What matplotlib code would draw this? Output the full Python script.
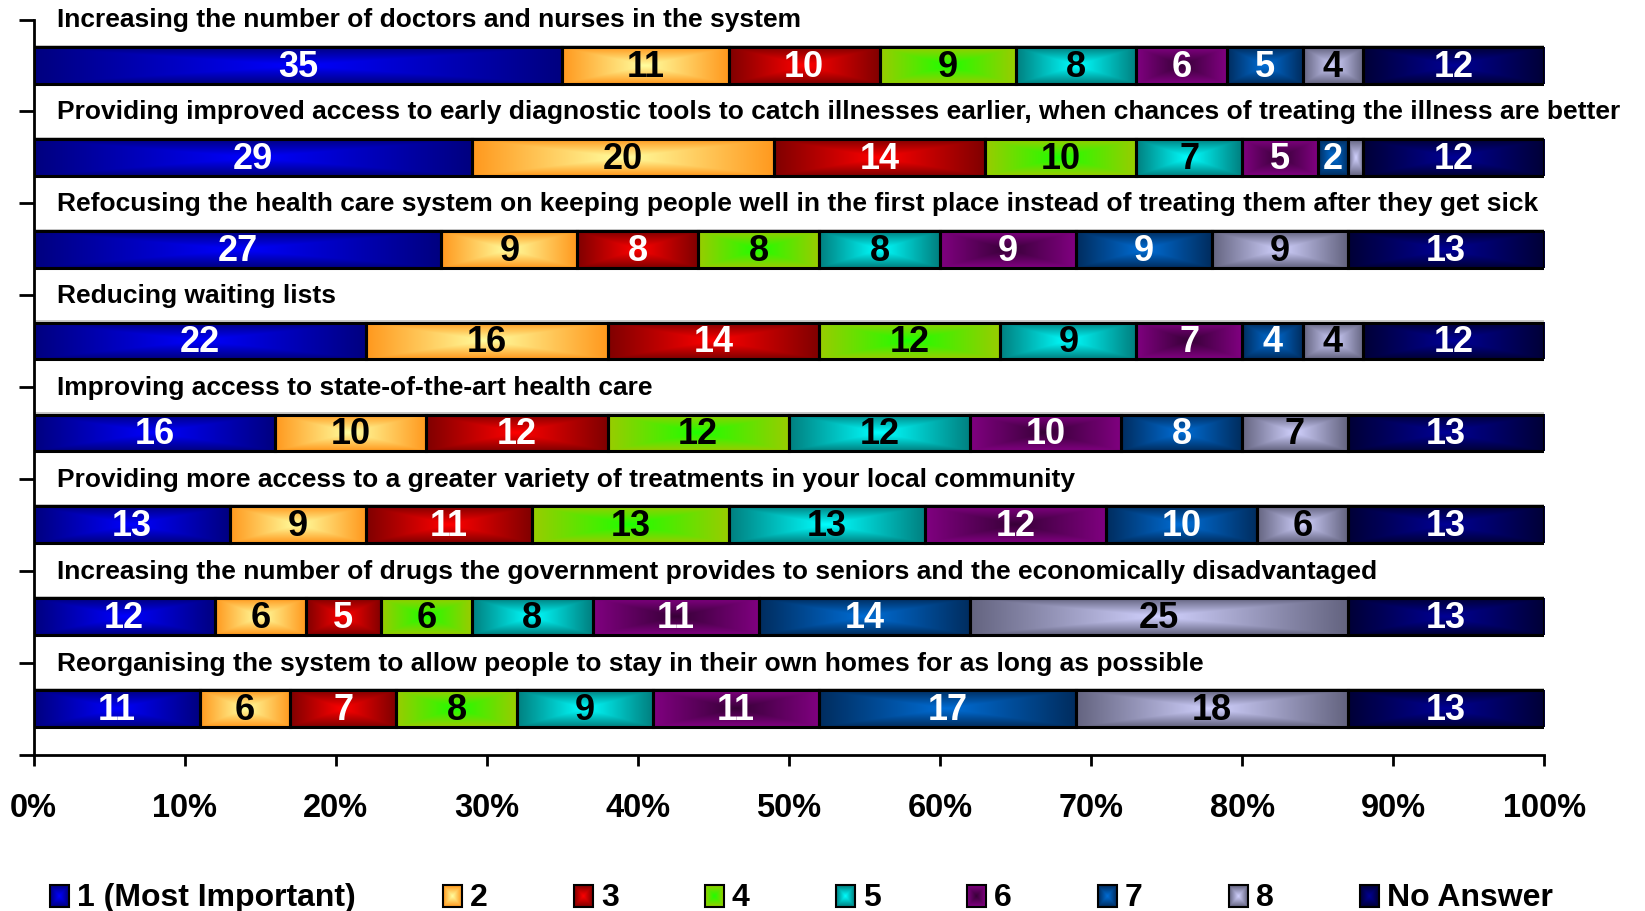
import numpy as np
import matplotlib
matplotlib.use("Agg")
import matplotlib.pyplot as plt
from matplotlib.patches import Rectangle

plt.rcParams['font.family'] = ['Liberation Sans', 'DejaVu Sans']
plt.rcParams['font.weight'] = 'bold'

# Priorities asked about (top to bottom)
questions = [
    "Increasing the number of doctors and nurses in the system",
    "Providing improved access to early diagnostic tools to catch illnesses earlier, when chances of treating the illness are better",
    "Refocusing the health care system on keeping people well in the first place instead of treating them after they get sick",
    "Reducing waiting lists",
    "Improving access to state-of-the-art health care",
    "Providing more access to a greater variety of treatments in your local community",
    "Increasing the number of drugs the government provides to seniors and the economically disadvantaged",
    "Reorganising the system to allow people to stay in their own homes for as long as possible",
]

ranks = ["1 (Most Important)", "2", "3", "4", "5", "6", "7", "8", "No Answer"]

# percentage of respondents giving each rank, one list per rank
rank_1 = [35, 29, 27, 22, 16, 13, 12, 11]
rank_2 = [11, 20, 9, 16, 10, 9, 6, 6]
rank_3 = [10, 14, 8, 14, 12, 11, 5, 7]
rank_4 = [9, 10, 8, 12, 12, 13, 6, 8]
rank_5 = [8, 7, 8, 9, 12, 13, 8, 9]
rank_6 = [6, 5, 9, 7, 10, 12, 11, 11]
rank_7 = [5, 2, 9, 4, 8, 10, 14, 17]
rank_8 = [4, 1, 9, 4, 7, 6, 25, 18]
no_answer = [12, 12, 13, 12, 13, 13, 13, 13]

series = [rank_1, rank_2, rank_3, rank_4, rank_5, rank_6, rank_7, rank_8, no_answer]

# (centre colour, edge colour, label colour) for the centre-out gradient fills
fills = [
    ((0, 0, 255), (0, 0, 128), "white"),
    ((255, 255, 160), (255, 153, 30), "black"),
    ((255, 0, 0), (128, 0, 0), "white"),
    ((30, 255, 0), (153, 204, 0), "black"),
    ((0, 255, 255), (0, 128, 128), "black"),
    ((55, 0, 55), (128, 0, 128), "white"),
    ((0, 110, 215), (0, 45, 95), "white"),
    ((210, 210, 255), (100, 100, 128), "black"),
    ((0, 0, 150), (0, 0, 55), "white"),
]


def gradient(center, edge, nx=120, ny=40):
    u = np.abs(np.linspace(-1, 1, nx))
    v = np.abs(np.linspace(-1, 1, ny))
    t = np.maximum(u[None, :], v[:, None])[..., None]
    c = np.array(center) / 255.0
    e = np.array(edge) / 255.0
    return c * (1 - t) + e * t


W, H = 1645, 912
fig = plt.figure(figsize=(W / 100, H / 100), dpi=100)
ax = fig.add_axes([33.6 / W, 1 - 755.5 / H, (1544.3 - 33.6) / W, (755.5 - 20.5) / H])

y = np.arange(len(questions))
left = np.zeros(len(questions))
bar_h = 0.4

# faint grey shadow along the top of each bar
ax.barh(y - 0.025, np.full(len(questions), 100.3), height=bar_h, color="#c8c8c8",
        linewidth=0, zorder=1)

for vals, (cc, ec, tc) in zip(series, fills):
    bars = ax.barh(y, vals, left=left, height=bar_h, facecolor="none",
                   edgecolor="black", linewidth=2.2, zorder=3)
    img = gradient(cc, ec)
    for b, v in zip(bars, vals):
        x0, y0, w, h = b.get_x(), b.get_y(), b.get_width(), b.get_height()
        ax.imshow(img, extent=(x0, x0 + w, y0 + h, y0), aspect="auto",
                  interpolation="bilinear", zorder=2)
        if v >= 2:
            ax.text(x0 + w / 2, y0 + h / 2 + 0.01, str(v), ha="center", va="center",
                    color=tc, fontsize=26, fontweight="bold", zorder=4)
    left += np.array(vals)

for i, q in enumerate(questions):
    ax.text(1.55, i - 0.5, q, ha="left", va="center", fontsize=19,
            fontweight="bold", color="black", zorder=4)

ax.set_xlim(0, 100)
ax.set_ylim(len(questions) - 0.5, -0.5)
ax.set_xticks(np.arange(0, 101, 10))
ax.set_xticklabels([f"{t}%" for t in range(0, 101, 10)], fontsize=23.5, fontweight="bold")
ax.set_yticks(np.arange(-0.5, len(questions), 1.0))
ax.set_yticklabels([])
ax.tick_params(axis="x", direction="out", length=8, width=2, pad=19)
ax.tick_params(axis="y", direction="out", length=11, width=2)
for s in ["top", "right"]:
    ax.spines[s].set_visible(False)
for s in ["left", "bottom"]:
    ax.spines[s].set_linewidth(2)

# legend along the bottom, drawn in pixel coordinates
lax = fig.add_axes([0, 0, 1, 1], zorder=5)
lax.set_xlim(0, W)
lax.set_ylim(H, 0)
lax.axis("off")
slots = [0, 3, 4, 5, 6, 7, 8, 9, 10]
for name, (cc, ec, tc), k in zip(ranks, fills, slots):
    x0 = 50 + k * 131
    y0, y1 = 886, 908
    lax.imshow(gradient(cc, ec, 20, 20), extent=(x0, x0 + 19, y1, y0),
               aspect="auto", interpolation="bilinear", zorder=1)
    lax.add_patch(Rectangle((x0, y0), 19, y1 - y0, fill=False,
                            edgecolor="black", linewidth=1.5, zorder=2))
    lax.text(x0 + 27, 898, name, ha="left", va="center", fontsize=23,
             fontweight="bold", color="black")
lax.set_xlim(0, W)
lax.set_ylim(H, 0)

fig.savefig("out.png", dpi=100)
